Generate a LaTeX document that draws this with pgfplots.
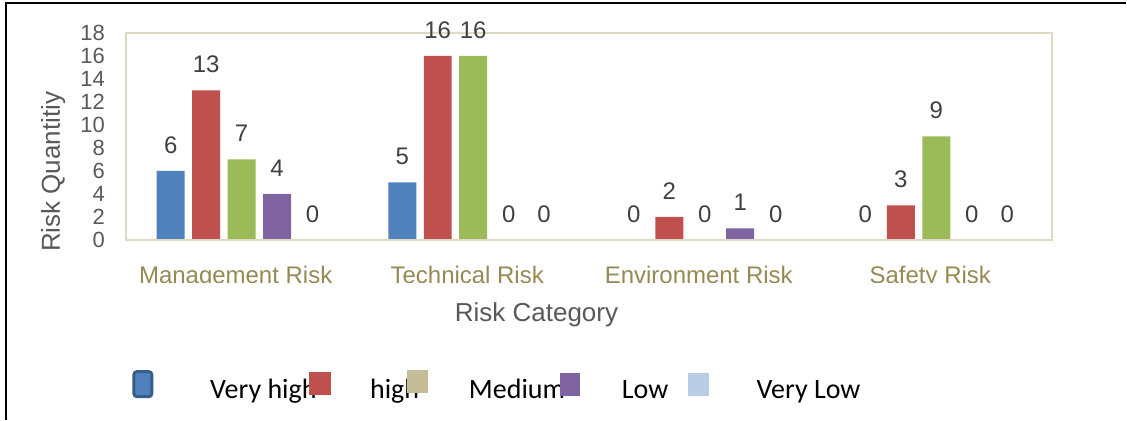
\documentclass[border=0pt]{standalone}
\usepackage{pgfplots}
\pgfplotsset{compat=1.18}
\usepackage{fontspec}
\setmainfont{Liberation Sans}
\newfontfamily\carlito{Carlito}
\definecolor{cBlue}{HTML}{4F81BD}
\definecolor{cRed}{HTML}{C0504D}
\definecolor{cGreen}{HTML}{9BBB59}
\definecolor{cPurple}{HTML}{8064A2}
\definecolor{cLight}{HTML}{B9CDE5}
\definecolor{cTan}{HTML}{C4BD97}
\definecolor{cDark}{HTML}{385D8A}
\definecolor{frameC}{HTML}{DDD9C3}
\definecolor{tickC}{HTML}{595959}
\definecolor{labC}{HTML}{404040}
\definecolor{olive}{HTML}{948A54}
\begin{document}
\begin{tikzpicture}
\begin{scope}[x=0.5pt,y=-0.5pt]
\path[use as bounding box] (0,0) rectangle (1127,420);
\end{scope}
\begin{axis}[
  at={(63pt,-120pt)}, anchor=south west,
  scale only axis, width=463.5pt, height=103.5pt,
  ybar=3.75pt, bar width=14pt,
  xmin=-0.5, xmax=3.5, ymin=0, ymax=18,
  xtick={0,1,2,3},
  xticklabels={Management Risk, Technical Risk, Environment Risk, Safety Risk},
  ytick={0,2,...,18},
  major tick length=0pt,
  axis on top,
  axis line style={draw=frameC, line width=1pt},
  clip=false,
  /pgf/number format/assume math mode=true,
  tick label style={font=\fontsize{11}{13}\selectfont, text=tickC},
  yticklabel style={anchor=east, xshift=-7pt},
  xticklabel style={anchor=base, font=\fontsize{12}{14}\selectfont, text=olive, yshift=-22pt, xshift=-3pt},
  nodes near coords,
  every node near coord/.append style={font=\fontsize{12}{14}\selectfont, text=labC, anchor=south, inner sep=0pt, yshift=8.5pt},
]
\addplot[fill=cBlue, draw=none] coordinates {(0,6) (1,5) (2,0) (3,0)};
\addplot[fill=cRed, draw=none] coordinates {(0,13) (1,16) (2,2) (3,3)};
\addplot[fill=cGreen, draw=none] coordinates {(0,7) (1,16) (2,0) (3,9)};
\addplot[fill=cPurple, draw=none] coordinates {(0,4) (1,0) (2,1) (3,0)};
\addplot[fill=cLight, draw=none] coordinates {(0,0) (1,0) (2,0) (3,0)};
\end{axis}
\begin{scope}[x=0.5pt,y=-0.5pt]
\fill[white] (128,283) rectangle (1050,300);
\node[rotate=90, anchor=base, text=tickC, font=\fontsize{13}{15}\selectfont] at (60,172) {Risk Quantitiy};
\node[anchor=base, text=tickC, font=\fontsize{13}{15}\selectfont] at (537,322) {Risk Category};
\draw[black, line width=1pt] (6,420) -- (6,3) -- (1127,3);
\begin{scope}[every node/.style={anchor=base west, inner sep=0pt, font=\carlito\fontsize{14}{16}\selectfont}]
\node at (210,399) {Very high};
\node at (370,399) {high};
\node at (469,399) {Medium};
\node at (622,399) {Low};
\node at (757,399) {Very Low};
\end{scope}
\filldraw[fill=cBlue, draw=cDark, line width=1.5pt, rounded corners=1.5pt] (134,372) rectangle (152,397);
\fill[cRed] (309,372) rectangle (331,395);
\fill[cTan] (407,370) rectangle (428,393);
\fill[cPurple] (560,373) rectangle (581,396);
\fill[cLight] (689,373) rectangle (710,396);
\end{scope}
\end{tikzpicture}
\end{document}
